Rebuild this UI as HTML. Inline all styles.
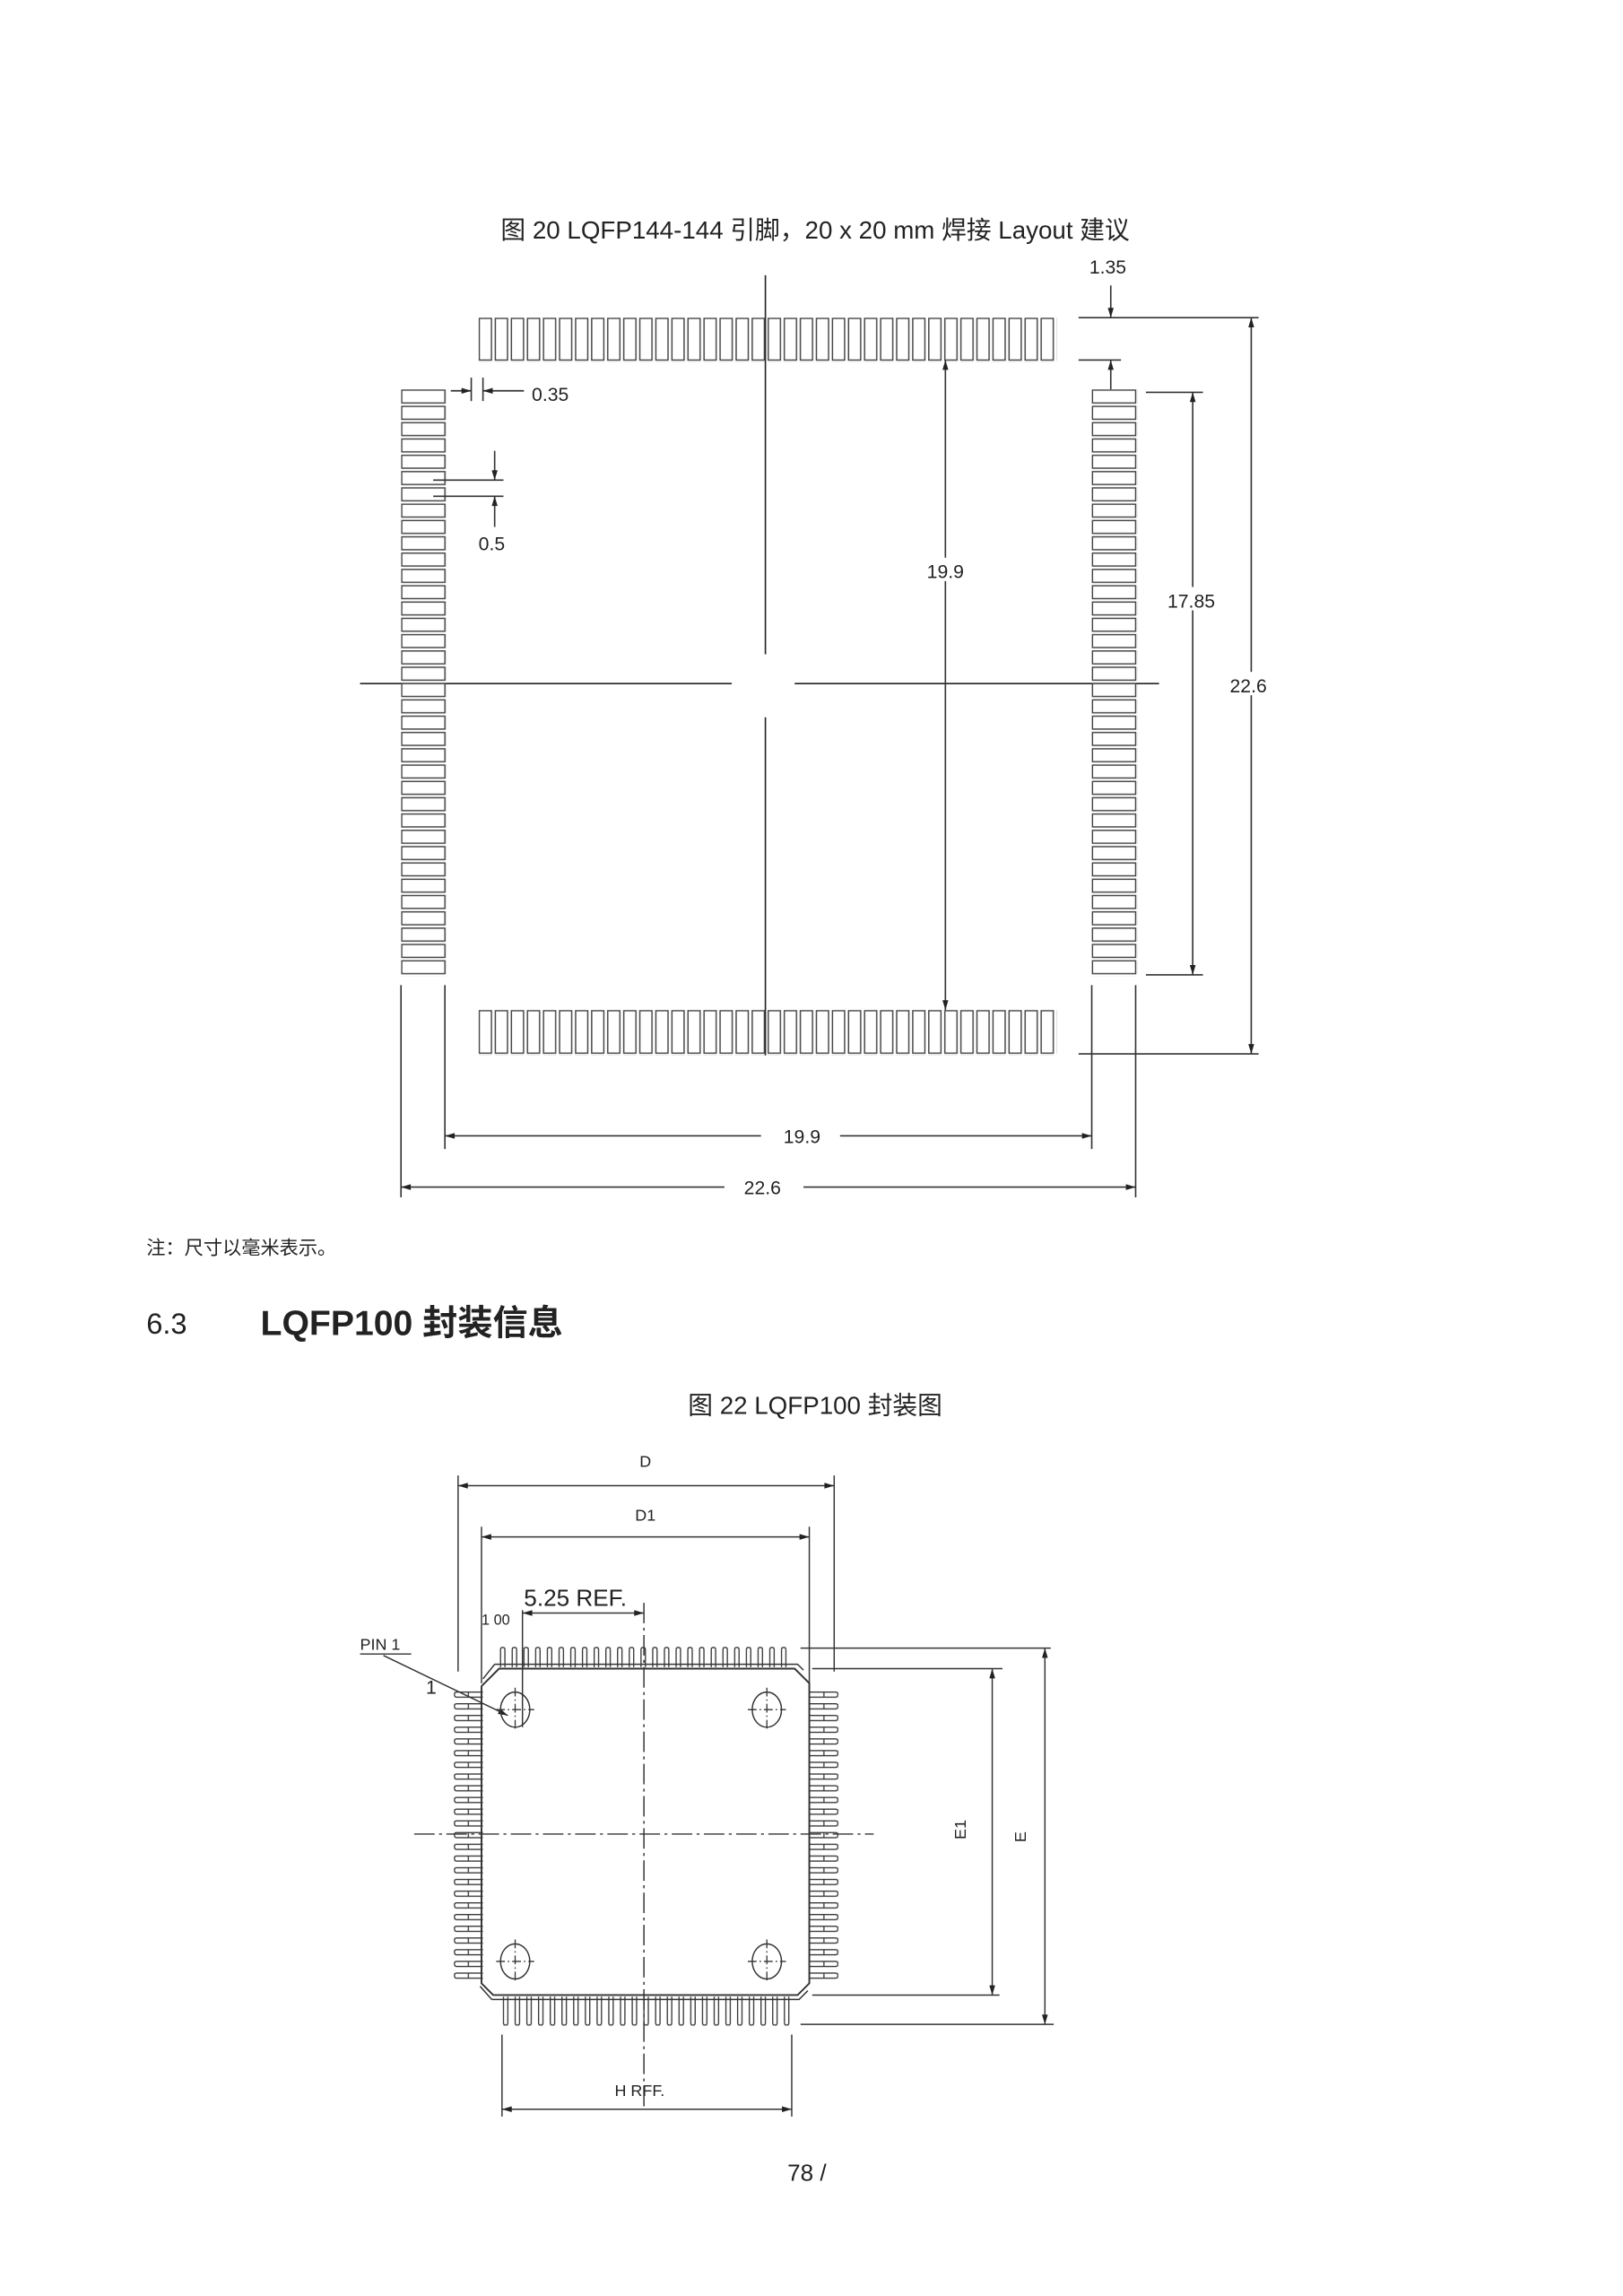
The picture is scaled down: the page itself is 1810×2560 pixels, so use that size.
<!DOCTYPE html>
<html><head><meta charset="utf-8"><style>
html,body{margin:0;padding:0;background:#fff;}
svg{display:block;}
text{font-family:"Liberation Sans","Noto Sans CJK SC",sans-serif;fill:#222;}
</style></head><body>
<svg width="1810" height="2560" viewBox="0 0 1109 1568.6" xmlns="http://www.w3.org/2000/svg">
<defs>
<marker id="a" viewBox="0 0 10 6" refX="10" refY="3" markerWidth="7" markerHeight="4" orient="auto-start-reverse" markerUnits="userSpaceOnUse"><path d="M0,0 L10,3 L0,6z" fill="#222"/></marker>
<pattern id="pv" x="327" y="217" width="10.97" height="30" patternUnits="userSpaceOnUse"><rect x="0.5" y="0.5" width="8.3" height="28.5" fill="#fff" stroke="#444" stroke-width="0.9"/></pattern>
<pattern id="pb" x="327" y="690" width="10.97" height="31" patternUnits="userSpaceOnUse"><rect x="0.5" y="0.5" width="8.3" height="29" fill="#fff" stroke="#444" stroke-width="0.9"/></pattern>
<pattern id="ph" x="274" y="266" width="31" height="11.14" patternUnits="userSpaceOnUse"><rect x="0.5" y="0.5" width="29.5" height="8.8" fill="#fff" stroke="#444" stroke-width="0.9"/></pattern>
<pattern id="ph2" x="746" y="266" width="31" height="11.14" patternUnits="userSpaceOnUse"><rect x="0.5" y="0.5" width="29.5" height="8.8" fill="#fff" stroke="#444" stroke-width="0.9"/></pattern>
<pattern id="qt" x="341" y="1125" width="8" height="16" patternUnits="userSpaceOnUse"><path d="M1,16 V2 Q1,0.5 2.5,0.5 Q4,0.5 4,2 V16" fill="none" stroke="#333" stroke-width="0.8"/></pattern>
<pattern id="qb" x="343" y="1364" width="8" height="20" patternUnits="userSpaceOnUse"><path d="M1,0 V18 Q1,19.5 2.5,19.5 Q4,19.5 4,18 V0" fill="none" stroke="#333" stroke-width="0.8"/></pattern>
<pattern id="ql" x="310" y="1155" width="20" height="8" patternUnits="userSpaceOnUse"><path d="M20,1 H2 Q0.5,1 0.5,2.5 Q0.5,4.5 2,4.5 H20 M10,1 V4.5" fill="none" stroke="#333" stroke-width="0.8"/></pattern>
<pattern id="qr" x="553" y="1155" width="20" height="8" patternUnits="userSpaceOnUse"><path d="M0,1 H18 Q19.5,1 19.5,2.5 Q19.5,4.5 18,4.5 H0 M10,1 V4.5" fill="none" stroke="#333" stroke-width="0.8"/></pattern>
</defs>

<text x="557" y="163" font-size="17" text-anchor="middle">图 20 LQFP144-144 引脚，20 x 20 mm 焊接 Layout  建议</text>

<g stroke="#222" stroke-width="1" fill="none">
<line x1="523" y1="188" x2="523" y2="447"/><line x1="523" y1="490" x2="523" y2="721"/>
<line x1="246" y1="467" x2="500" y2="467"/><line x1="543" y1="467" x2="792" y2="467"/>
</g>
<rect x="327" y="217" width="395" height="30" fill="url(#pv)"/>
<rect x="327" y="690" width="395" height="31" fill="url(#pb)"/>
<rect x="274" y="266" width="31" height="401" fill="url(#ph)"/>
<rect x="746" y="266" width="31" height="401" fill="url(#ph2)"/>

<g stroke="#333" stroke-width="1" fill="none">
<line x1="737" y1="217" x2="860" y2="217"/><line x1="737" y1="246" x2="766" y2="246"/>
<line x1="759" y1="195" x2="759" y2="217" marker-end="url(#a)"/>
<line x1="759" y1="266" x2="759" y2="246" marker-end="url(#a)"/>
<line x1="646" y1="246" x2="646" y2="690" marker-start="url(#a)" marker-end="url(#a)"/>
<line x1="783" y1="268" x2="822" y2="268"/><line x1="783" y1="666" x2="822" y2="666"/>
<line x1="815" y1="268" x2="815" y2="666" marker-start="url(#a)" marker-end="url(#a)"/>
<line x1="737" y1="720" x2="860" y2="720"/>
<line x1="855" y1="217" x2="855" y2="720" marker-start="url(#a)" marker-end="url(#a)"/>
<line x1="304" y1="673" x2="304" y2="785"/><line x1="746" y1="673" x2="746" y2="785"/>
<line x1="274" y1="673" x2="274" y2="818"/><line x1="776" y1="673" x2="776" y2="818"/>
<line x1="304" y1="776" x2="746" y2="776" marker-start="url(#a)" marker-end="url(#a)"/>
<line x1="274" y1="811" x2="776" y2="811" marker-start="url(#a)" marker-end="url(#a)"/>
<line x1="322" y1="258" x2="322" y2="274"/><line x1="330" y1="258" x2="330" y2="274"/>
<line x1="308" y1="267" x2="322" y2="267" marker-end="url(#a)"/>
<line x1="358" y1="267" x2="330" y2="267" marker-end="url(#a)"/>
<line x1="296" y1="328" x2="344" y2="328"/><line x1="296" y1="339" x2="344" y2="339"/>
<line x1="338" y1="308" x2="338" y2="328" marker-end="url(#a)"/>
<line x1="338" y1="360" x2="338" y2="339" marker-end="url(#a)"/>
</g>
<g font-size="13" text-anchor="middle">
<rect x="737" y="174" width="40" height="14" fill="#fff"/><text x="757" y="187">1.35</text>
<rect x="628" y="381" width="36" height="16" fill="#fff"/><text x="646" y="395">19.9</text>
<rect x="793" y="401" width="42" height="16" fill="#fff"/><text x="814" y="415">17.85</text>
<rect x="837" y="459" width="34" height="16" fill="#fff"/><text x="853" y="473">22.6</text>
<rect x="520" y="767" width="54" height="16" fill="#fff"/><text x="548" y="781">19.9</text>
<rect x="495" y="802" width="54" height="16" fill="#fff"/><text x="521" y="816">22.6</text>
<text x="376" y="274">0.35</text>
<text x="336" y="376">0.5</text>
</g>

<text x="100" y="857" font-size="13">注：尺寸以毫米表示。</text>
<text x="100" y="911" font-size="20">6.3</text>
<text x="178" y="912" font-size="24" font-weight="bold">LQFP100 封装信息</text>
<text x="557" y="966" font-size="17" text-anchor="middle">图 22 LQFP100 封装图</text>

<g stroke="#333" stroke-width="0.9" fill="none">
<line x1="313" y1="1008" x2="313" y2="1142"/><line x1="570" y1="1008" x2="570" y2="1142"/>
<line x1="313" y1="1015" x2="570" y2="1015" marker-start="url(#a)" marker-end="url(#a)"/>
<line x1="329" y1="1043" x2="329" y2="1150"/><line x1="553" y1="1043" x2="553" y2="1150"/>
<line x1="329" y1="1050" x2="553" y2="1050" marker-start="url(#a)" marker-end="url(#a)"/>
<line x1="357" y1="1100" x2="357" y2="1180"/>
<line x1="357" y1="1102" x2="440" y2="1102" marker-start="url(#a)" marker-end="url(#a)"/>
<line x1="440" y1="1095" x2="440" y2="1440" stroke-dasharray="14,3,2,3"/>
<line x1="283" y1="1253" x2="597" y2="1253" stroke-dasharray="14,3,2,3"/>
<path d="M341,1140 H543 L553,1150 V1355 L545,1363 H337 L329,1355 V1152 Z" stroke-width="1.2"/>
<path d="M338,1137 H545 L549,1141 M338,1137 L330,1147"/>
<path d="M336,1366 H546 L552,1360 M336,1366 L328,1357"/>
<line x1="246" y1="1130" x2="281" y2="1130"/>
<line x1="262" y1="1131" x2="347" y2="1172" marker-end="url(#a)"/>
<line x1="547" y1="1126" x2="718" y2="1126"/><line x1="555" y1="1140" x2="685" y2="1140"/>
<line x1="555" y1="1363" x2="683" y2="1363"/><line x1="547" y1="1383" x2="720" y2="1383"/>
<line x1="678" y1="1140" x2="678" y2="1363" marker-start="url(#a)" marker-end="url(#a)"/>
<line x1="714" y1="1126" x2="714" y2="1383" marker-start="url(#a)" marker-end="url(#a)"/>
<line x1="343" y1="1390" x2="343" y2="1446"/><line x1="541" y1="1390" x2="541" y2="1446"/>
<line x1="343" y1="1441" x2="541" y2="1441" marker-start="url(#a)" marker-end="url(#a)"/>
<g>
<ellipse cx="352" cy="1168" rx="10" ry="12"/><ellipse cx="524" cy="1168" rx="10" ry="12"/>
<ellipse cx="352" cy="1340" rx="10" ry="12"/><ellipse cx="524" cy="1340" rx="10" ry="12"/>
</g>
<g stroke-dasharray="6,2,1,2" stroke-width="0.8">
<path d="M339,1168 H365 M352,1153 V1183 M511,1168 H537 M524,1153 V1183 M339,1340 H365 M352,1325 V1355 M511,1340 H537 M524,1325 V1355"/>
</g>
</g>
<rect x="341" y="1125" width="200" height="14" fill="url(#qt)"/>
<rect x="343" y="1364" width="200" height="20" fill="url(#qb)"/>
<rect x="310" y="1155" width="20" height="200" fill="url(#ql)"/>
<rect x="553" y="1155" width="20" height="200" fill="url(#qr)"/>

<g font-size="11">
<text x="441" y="1002" text-anchor="middle">D</text>
<text x="441" y="1039" text-anchor="middle">D1</text>
<text x="329" y="1110" font-size="10">1 00</text>
<text x="358" y="1097" font-size="16">5.25  REF.</text>
<text x="246" y="1127" font-size="11">PIN  1</text>
<text x="291" y="1157" font-size="13">1</text>
<text x="420" y="1432">H   RFF.</text>
<text transform="translate(660,1250) rotate(-90)" text-anchor="middle">E1</text>
<text transform="translate(701,1255) rotate(-90)" text-anchor="middle">E</text>
</g>
<text x="538" y="1490" font-size="16">78 /</text>
</svg>
</body></html>
